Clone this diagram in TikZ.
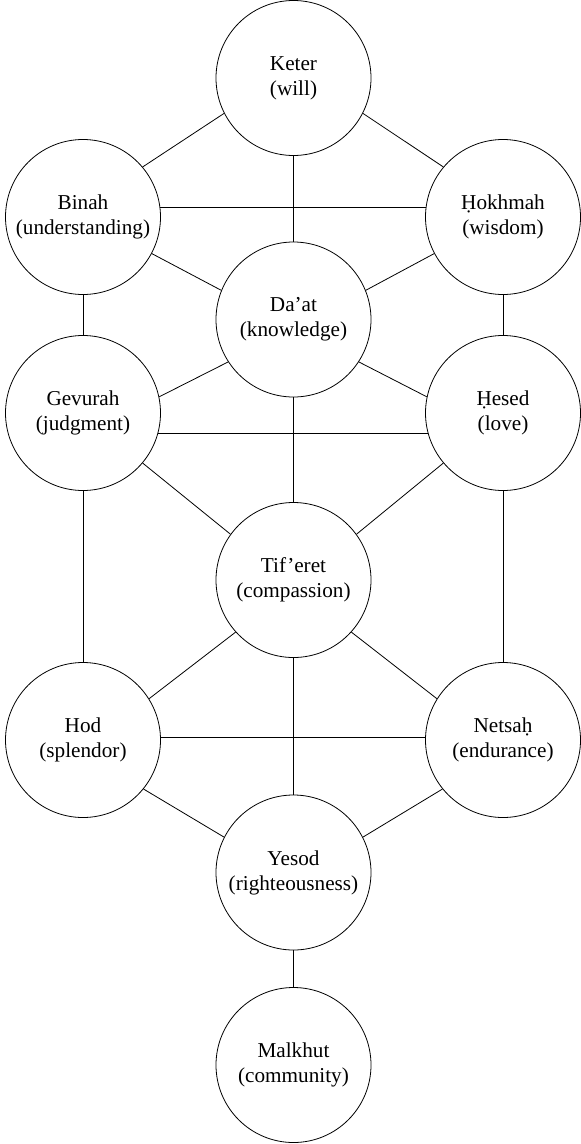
\documentclass[tikz,border=0pt]{standalone}
\usepackage{fontspec}
\setmainfont{Liberation Serif}
\usetikzlibrary{positioning}

\begin{document}
\begin{tikzpicture}[sefira/.style={circle,draw,line width=0.8bp,inner sep=0pt,minimum size=155bp,align=center,font=\fontsize{21.2bp}{25bp}\selectfont},
        line width=0.8bp,on grid]
        \useasboundingbox (0,0) rectangle (581bp,-1144bp);
        \node[sefira] (keter) at (293.5bp,-78bp) {Keter\\(will)};
        \node[sefira] (binah) [below left=139bp and 210.5bp of keter] {Binah\\(understanding)};
        \node[sefira] (hokhmah) [right=420bp of binah] {Ḥokhmah\\(wisdom)};
        \node[sefira] (daat) [below=241.5bp of keter] {Da’at\\(knowledge)};
        \node[sefira] (gevurah) [below=196bp of binah] {Gevurah\\(judgment)};
        \node[sefira] (hesed) [right=420bp of gevurah] {Ḥesed\\(love)};
        \node[sefira] (tiferet) [below=260.5bp of daat] {Tif’eret\\(compassion)};
        \node[sefira] (hod) [below=327bp of gevurah] {Hod\\(splendor)};
        \node[sefira] (netsah) [right=420bp of hod] {Netsaḥ\\(endurance)};
        \node[sefira] (yesod) [below=292.5bp of tiferet] {Yesod\\(righteousness)};
        \node[sefira] (malkhut) [below=192.5bp of yesod] {Malkhut\\(community)};

        \draw (keter.207)--(binah.40);
        \draw (keter.333)--(hokhmah.140);
        \draw (keter)--(daat);
        \draw (binah.7)--(hokhmah.173);
        \draw (binah.-28)--(daat.158);
        \draw (hokhmah.208)--(daat.22);
        \draw (binah)--(gevurah);
        \draw (hokhmah)--(hesed);
        \draw (daat.213)--(gevurah.12);
        \draw (daat.327)--(hesed.168);
        \draw (gevurah.-15)--(hesed.195);
        \draw (daat)--(tiferet);
        \draw (gevurah.-40)--(tiferet.144);
        \draw (hesed.220)--(tiferet.36);
        \draw (gevurah)--(hod);
        \draw (hesed)--(netsah);
        \draw (tiferet.222)--(hod.32);
        \draw (tiferet.318)--(netsah.148);
        \draw (hod.2)--(netsah.178);
        \draw (tiferet)--(yesod);
        \draw (hod.-39)--(yesod.153);
        \draw (netsah.219)--(yesod.27);
        \draw (yesod)--(malkhut);
    \end{tikzpicture}
\end{document}
